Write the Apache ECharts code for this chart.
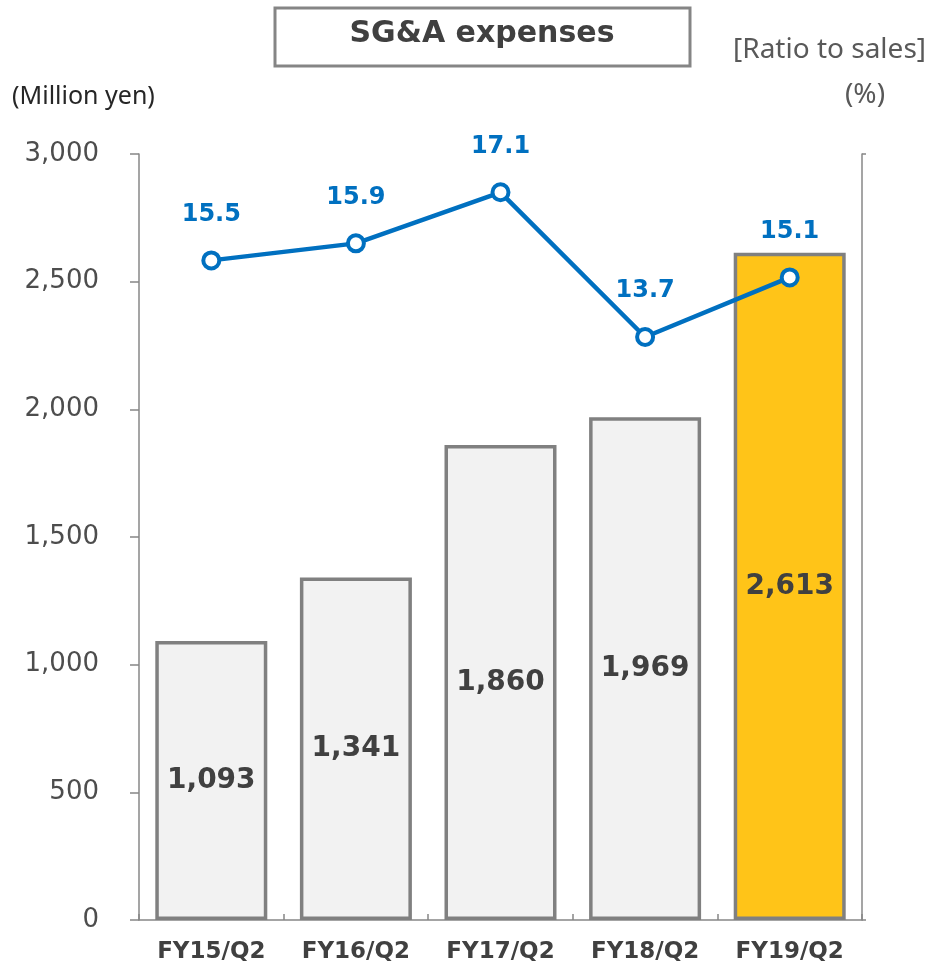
<!DOCTYPE html>
<html>
<head>
<meta charset="utf-8">
<script src="https://cdn.jsdelivr.net/npm/echarts@6/dist/echarts.min.js"></script>
<style>
  html, body { margin: 0; padding: 0; background: #fff; }
  #chart { width: 929px; height: 969px; }
</style>
</head>
<body>
<div id="chart"></div>
<script>
// Half-year SG&A expenses (million yen) and their ratio to sales (%)
const categories = ['FY15/Q2', 'FY16/Q2', 'FY17/Q2', 'FY18/Q2', 'FY19/Q2'];
const sgaExpenses = [1093, 1341, 1860, 1969, 2613];
const ratioToSales = [15.5, 15.9, 17.1, 13.7, 15.1];
const leftTicks = [0, 500, 1000, 1500, 2000, 2500, 3000];

const AXIS = '#878787';
const TEXT = '#404040';
const BLUE = '#0070C0';
const NUM_FONT = '"DejaVu Sans", Verdana, sans-serif';
const LABEL_FONT = '"Noto Sans", "Open Sans", sans-serif';

const chart = echarts.init(document.getElementById('chart'));

const barData = sgaExpenses.map((v, i) => ({
  value: v,
  itemStyle: {
    color: i === sgaExpenses.length - 1 ? '#FFC418' : '#F2F2F2'
  }
}));

chart.setOption({
  animation: false,
  grid: { left: 139, right: 67, top: 154, bottom: 49 },
  graphic: [
    {
      type: 'rect',
      shape: { x: 275, y: 8, width: 415, height: 58 },
      style: { fill: '#fff', stroke: '#858585', lineWidth: 3 }
    },
    {
      type: 'text',
      x: 482, y: 34,
      style: {
        text: 'SG&A expenses', fill: TEXT, font: 'bold 30px ' + NUM_FONT,
        align: 'center', verticalAlign: 'middle'
      }
    },
    {
      type: 'text',
      x: 12, y: 97,
      style: {
        text: '(Million yen)', fill: '#262626', font: '25px ' + LABEL_FONT,
        align: 'left', verticalAlign: 'middle'
      }
    },
    {
      type: 'text',
      x: 926, y: 50,
      style: {
        text: '[Ratio to sales]', fill: '#595959', font: '28px ' + LABEL_FONT,
        align: 'right', verticalAlign: 'middle'
      }
    },
    {
      type: 'text',
      x: 865, y: 95,
      style: {
        text: '(%)', fill: '#595959', font: '28px ' + LABEL_FONT,
        align: 'center', verticalAlign: 'middle'
      }
    }
  ],
  xAxis: {
    type: 'category',
    data: categories,
    axisLine: { lineStyle: { color: AXIS, width: 1.5 } },
    axisTick: { show: true, inside: true, length: 6, interval: 0, lineStyle: { color: AXIS, width: 1.5 } },
    axisLabel: {
      interval: 0, hideOverlap: false,
      color: TEXT, fontFamily: NUM_FONT, fontWeight: 'bold', fontSize: 23, margin: 21
    }
  },
  yAxis: [
    {
      type: 'value',
      min: leftTicks[0],
      max: leftTicks[leftTicks.length - 1],
      interval: leftTicks[1] - leftTicks[0],
      splitLine: { show: false },
      axisLine: { show: true, lineStyle: { color: AXIS, width: 1.5 } },
      axisTick: { show: true, length: 9, lineStyle: { color: AXIS, width: 1.5 } },
      axisLabel: {
        color: '#4d4d4d', fontFamily: NUM_FONT, fontSize: 26, margin: 40,
        formatter: v => v.toLocaleString('en-US')
      }
    },
    {
      type: 'value',
      min: 0,
      max: 18,
      interval: 18,
      splitLine: { show: false },
      axisLine: { show: true, lineStyle: { color: AXIS, width: 1.5 } },
      axisTick: { show: true, length: 4, lineStyle: { color: AXIS, width: 1.5 } },
      axisLabel: { show: false }
    }
  ],
  series: [
    {
      type: 'bar',
      yAxisIndex: 0,
      data: barData,
      barWidth: 112,
      itemStyle: { borderColor: '#808080', borderWidth: 3.5 },
      label: {
        show: true,
        position: 'inside',
        color: TEXT,
        fontFamily: NUM_FONT,
        fontWeight: 'bold',
        fontSize: 28,
        formatter: p => p.value.toLocaleString('en-US')
      }
    },
    {
      type: 'line',
      yAxisIndex: 1,
      data: ratioToSales,
      symbol: 'circle',
      symbolSize: 16,
      lineStyle: { color: BLUE, width: 4.5 },
      itemStyle: { color: '#fff', borderColor: BLUE, borderWidth: 4 },
      label: {
        show: true,
        position: 'top',
        distance: 24,
        color: BLUE,
        fontFamily: NUM_FONT,
        fontWeight: 'bold',
        fontSize: 24,
        formatter: p => p.value.toFixed(1)
      },
      z: 5
    }
  ]
});
</script>
</body>
</html>
